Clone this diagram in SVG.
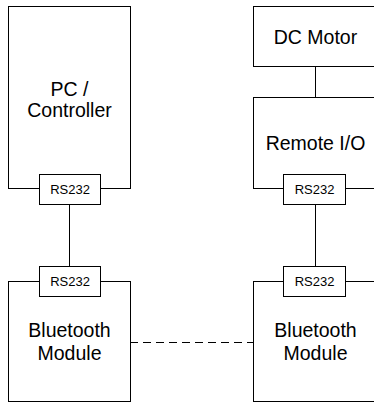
<svg xmlns="http://www.w3.org/2000/svg" width="374" height="407" viewBox="0 0 374 407">
<style>
.box{fill:#fff;stroke:#000;stroke-width:1}
.t{font-family:"Liberation Sans",Arial,sans-serif;font-size:19.5px;fill:#000;text-anchor:middle}
.s{font-family:"Liberation Sans",Arial,sans-serif;font-size:13px;fill:#000;text-anchor:middle}
.c{stroke:#000;stroke-width:1;fill:none}
</style>
<rect width="374" height="407" fill="#fff"/>
<g id="connectors">
<line class="c" x1="69.5" y1="204" x2="69.5" y2="266"/>
<line class="c" x1="315.5" y1="66" x2="315.5" y2="97"/>
<line class="c" x1="315.5" y1="204" x2="315.5" y2="266"/>
<line class="c" x1="130" y1="342.5" x2="253" y2="342.5" stroke-dasharray="8,5"/>
</g>
<g id="pc">
<rect class="box" x="8.5" y="6.5" width="122" height="182"/>
<text class="t" x="69.5" y="96">PC /</text>
<text class="t" x="69.5" y="117">Controller</text>
</g>
<g id="pc-rs232">
<rect class="box" x="39.5" y="174.5" width="61" height="30"/>
<text class="s" x="70" y="194">RS232</text>
</g>
<g id="bt-left">
<rect class="box" x="8.5" y="281.5" width="122" height="120"/>
<text class="t" x="69.5" y="337">Bluetooth</text>
<text class="t" x="69.5" y="360">Module</text>
</g>
<g id="bt-left-rs232">
<rect class="box" x="39.5" y="266.5" width="61" height="30"/>
<text class="s" x="70" y="286">RS232</text>
</g>
<g id="motor">
<rect class="box" x="253.5" y="6.5" width="124" height="60"/>
<text class="t" x="315.5" y="44">DC Motor</text>
</g>
<g id="remote">
<rect class="box" x="253.5" y="97.5" width="124" height="91"/>
<text class="t" x="315.5" y="150">Remote I/O</text>
</g>
<g id="remote-rs232">
<rect class="box" x="283.5" y="174.5" width="62" height="30"/>
<text class="s" x="314.5" y="194">RS232</text>
</g>
<g id="bt-right">
<rect class="box" x="253.5" y="281.5" width="124" height="120"/>
<text class="t" x="315.5" y="337">Bluetooth</text>
<text class="t" x="315.5" y="360">Module</text>
</g>
<g id="bt-right-rs232">
<rect class="box" x="283.5" y="266.5" width="62" height="30"/>
<text class="s" x="314.5" y="286">RS232</text>
</g>
</svg>
